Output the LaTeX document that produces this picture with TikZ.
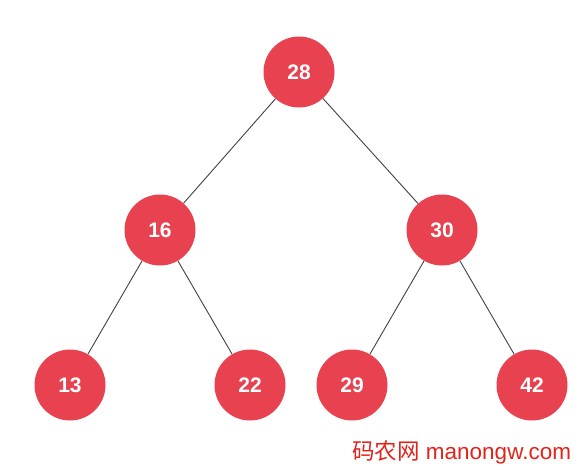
\documentclass[tikz,border=0pt]{standalone}
\usepackage{fontspec}
\setmainfont{Liberation Sans}
\newfontfamily\cjk{Noto Sans CJK SC}
\definecolor{keyred}{HTML}{E8414F}
\definecolor{markred}{HTML}{E2231A}
\tikzset{
  key/.style={circle, fill=keyred, draw=none, minimum size=71pt, inner sep=0pt,
    text=white, font=\fontsize{21}{21}\selectfont\bfseries},
  branch/.style={draw=black!75, line width=0.9pt}
}
\begin{document}
\begin{tikzpicture}[x=1pt, y=-1pt]
  \useasboundingbox (0,0) rectangle (580,474);
  \node[key] (k28) at (299,72) {28};
  \node[key] (k16) at (160,230) {16};
  \node[key] (k30) at (442,230) {30};
  \node[key] (k13) at (70,385) {13};
  \node[key] (k22) at (250,385) {22};
  \node[key] (k29) at (352,385) {29};
  \node[key] (k42) at (532,385) {42};
  \draw[branch] (k28) -- (k16);
  \draw[branch] (k28) -- (k30);
  \draw[branch] (k16) -- (k13);
  \draw[branch] (k16) -- (k22);
  \draw[branch] (k30) -- (k29);
  \draw[branch] (k30) -- (k42);
  \node[anchor=west, inner sep=0pt, text=markred, font=\fontsize{22.5}{22.5}\selectfont]
    (mark) at (352,452) {{\cjk 码农网} manongw.com};
\end{tikzpicture}
\end{document}
